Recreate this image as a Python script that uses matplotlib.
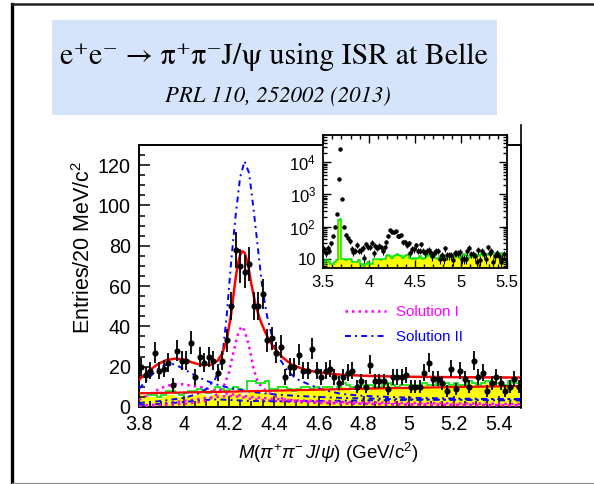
import numpy as np
import matplotlib.pyplot as plt
from matplotlib.patches import Rectangle
from matplotlib.lines import Line2D
from matplotlib.ticker import MultipleLocator, FixedLocator, FuncFormatter, NullFormatter

plt.rcParams['font.family'] = ['Liberation Sans', 'DejaVu Sans']
plt.rcParams['mathtext.fontset'] = 'custom'
plt.rcParams['mathtext.rm'] = 'Liberation Sans'
plt.rcParams['mathtext.it'] = 'Liberation Sans:italic'
plt.rcParams['mathtext.bf'] = 'Liberation Sans:bold'

# M(pi+ pi- J/psi) spectrum, 20 MeV bins from 3.8 to 5.5 GeV
bin_width = 0.02
main_lo = 3.80
counts = [20, 16, 18, 27, 18, 19, 22, 11, 28, 23,
          23, 32, 15, 25, 22, 25, 23, 17, 23, 33,
          50, 78, 70, 67, 71, 50, 50, 56, 33, 34,
          27, 30, 15, 20, 20, 26, 18, 18, 29, 18,
          15, 18, 19, 15, 12, 15, 17, 18, 10, 13,
          10, 21, 13, 13, 13, 9, 15, 15, 15, 16,
          10, 10, 10, 17, 22, 14, 14, 12, 8, 19,
          9, 18, 14, 10, 23, 15, 17, 8, 12, 15,
          12, 8, 10, 14, 10]

# J/psi sideband histogram (yellow) and green histogram
sideband = [6, 6, 5, 5, 4, 5, 6, 6, 5, 5,
            5, 6, 6, 7, 6, 5, 6, 7, 6, 6,
            7, 8, 7, 6, 7, 8, 7, 7, 8, 7,
            8, 8, 9, 8, 7, 8, 9, 9, 8, 9,
            8, 9, 9, 8, 9, 10, 9, 8, 9, 10,
            9, 10, 9, 9, 10, 11, 10, 9, 10, 10,
            10, 9, 10, 11, 10, 10, 11, 10, 11, 10,
            11, 10, 10, 12, 11, 10, 11, 12, 10, 11,
            11, 10, 12, 11, 11]
green_hist = [7, 7, 6, 6, 5, 6, 8, 8, 7, 6,
              7, 8, 8, 9, 8, 7, 8, 10, 9, 8,
              9, 10, 9, 8, 13, 13, 12, 12, 13, 9,
              9, 10, 10, 9, 8, 9, 10, 10, 9, 10,
              9, 10, 10, 9, 10, 12, 11, 10, 10, 11,
              10, 11, 10, 10, 11, 12, 11, 10, 11, 11,
              11, 10, 11, 12, 11, 11, 12, 11, 12, 11,
              12, 11, 11, 13, 12, 11, 12, 13, 11, 12,
              12, 11, 13, 12, 12]

# fit curves (sampled)
total_m = [3.80, 3.84, 3.88, 3.92, 3.96, 4.00, 4.04, 4.08, 4.12, 4.15,
           4.17, 4.19, 4.21, 4.22, 4.23, 4.24, 4.25, 4.26, 4.27, 4.28,
           4.29, 4.30, 4.32, 4.34, 4.36, 4.38, 4.40, 4.44, 4.48, 4.52,
           4.56, 4.60, 4.65, 4.70, 4.80, 4.90, 5.00, 5.20, 5.50]
total_fit = [13.5, 17.5, 21, 23.2, 24, 23.5, 22, 20.8, 21, 23,
             26.5, 33, 46, 55, 64, 71, 75.5, 77.3, 76.5, 73,
             67.5, 61, 50, 43, 37.5, 33, 29.5, 24.5, 21, 19.3,
             18, 17.2, 16.5, 16, 15.5, 15.2, 15, 14.8, 14.6]

bkg_m = [3.8, 4.0, 4.2, 4.4, 4.6, 4.8, 5.0, 5.2, 5.5]
bkg_fit = [6.8, 7.2, 7.6, 8.1, 8.6, 9.1, 9.5, 9.9, 10.4]

sol1_y4260_m = [3.80, 4.00, 4.10, 4.15, 4.18, 4.20, 4.22, 4.24, 4.255, 4.27,
                4.29, 4.31, 4.33, 4.36, 4.40, 4.46, 4.55, 4.70, 5.00, 5.50]
sol1_y4260 = [0.5, 1.5, 3, 6.5, 11, 17, 27, 36, 40, 38,
              30, 19, 12, 8.5, 5.5, 3.5, 2.5, 1.8, 1.2, 0.8]
sol1_y4008_m = [3.80, 3.85, 3.90, 3.95, 3.98, 4.02, 4.08, 4.14, 4.20, 4.30,
                4.40, 4.50, 4.70, 5.00, 5.50]
sol1_y4008 = [3.5, 6.5, 9.5, 11.3, 11.5, 10.8, 9.8, 8, 6.5, 5,
              4, 3.3, 2.5, 2, 1.5]
sol1_int_m = [3.80, 3.90, 4.00, 4.10, 4.20, 4.25, 4.30, 4.40, 4.60, 5.00, 5.50]
sol1_int = [0.3, 1.5, 3, 4.5, 5.5, 5, 4, 3, 2, 1.2, 0.8]

sol2_y4260_m = [3.80, 3.90, 4.00, 4.06, 4.10, 4.14, 4.17, 4.19, 4.21, 4.23,
                4.25, 4.27, 4.29, 4.31, 4.33, 4.35, 4.37, 4.39, 4.42, 4.46,
                4.50, 4.56, 4.62, 4.70, 4.80, 5.00, 5.20, 5.50]
sol2_y4260 = [2, 3, 4.5, 6.5, 9, 14, 24, 45, 72, 95,
              114, 122, 116, 98, 78, 58, 45, 36, 25, 18,
              14, 11, 8.5, 6.5, 5.5, 4.6, 4.2, 3.8]
sol2_y4008_m = [3.80, 3.84, 3.88, 3.92, 3.95, 3.98, 4.02, 4.06, 4.10, 4.15,
                4.20, 4.30, 4.40, 4.50, 4.70, 5.00, 5.50]
sol2_y4008 = [9, 14, 18.5, 21, 21.3, 20, 17.5, 15, 13, 11,
              9.5, 7.5, 6.3, 5.5, 4.5, 3.8, 3.2]
sol2_int_m = [3.80, 3.90, 4.00, 4.10, 4.15, 4.20, 4.30, 4.40, 4.60, 5.00, 5.50]
sol2_int = [1, 1.5, 2.5, 3.5, 3.8, 3.5, 3, 2.8, 3, 3.5, 4]

# inset: wider mass range on log scale, extra bins below 3.8 GeV
inset_lo = 3.50
inset_low_counts = [20, 15, 22, 18, 30, 50, 100, 250, 3000, 25000,
                    700, 100, 55, 45, 35]
inset_hist = [7, 9, 9, 8, 7, 7, 8, 9, 165, 170,
              10, 10, 9, 10, 10, 9, 8, 8, 8, 9,
              7, 7, 6, 7, 8, 7, 7, 10, 10, 10,
              10, 9, 10, 10, 12, 13, 12, 11, 12, 13,
              14, 13, 12, 11, 12, 13, 14, 11, 10, 11,
              10, 11, 12, 11, 10, 11, 12, 13, 12, 11,
              12, 11, 10, 12, 13, 12, 11, 12, 13, 12,
              11, 12, 13, 12, 11, 12, 14, 13, 12, 11,
              12, 13, 14, 13, 12, 13, 14, 12, 13, 14,
              13, 14, 15, 13, 12, 14, 13, 15, 14, 13]

W, H = 594, 484


def fx(px):
    return px / W


def fy(py):
    return 1 - py / H


fig = plt.figure(figsize=(W / 100, H / 100), dpi=100)

# slide frame
fig.add_artist(Line2D([fx(12), fx(12)], [fy(4), fy(484)], color='black', lw=2.4))
fig.add_artist(Line2D([fx(12), fx(594)], [fy(4), fy(4)], color='#222222', lw=1.8))
fig.add_artist(Line2D([fx(12), fx(594)], [fy(482.5), fy(482.5)], color='#888888', lw=0.8))

# title box
fig.add_artist(Rectangle((fx(52), fy(115)), (497 - 52) / W, (115 - 20) / H,
                         transform=fig.transFigure, facecolor='#d6e4fb', edgecolor='none'))
fig.text(fx(274), fy(57), 'e⁺e⁻ → π⁺π⁻J/ψ using ISR at Belle',
         family=['STIXGeneral', 'DejaVu Serif'], fontsize=21.5, ha='center', va='center')
fig.text(fx(278), fy(96), 'PRL 110, 252002 (2013)',
         family=['STIXGeneral', 'DejaVu Serif'], style='italic', fontsize=16.3,
         ha='center', va='center')

# main plot
ax = fig.add_axes([fx(139), fy(407), (521 - 139) / W, (407 - 145) / H])
edges = main_lo + bin_width * np.arange(len(counts) + 1)
centers = edges[:-1] + bin_width / 2

ax.stairs(sideband, edges, fill=True, color='#ffff00', zorder=1)
ax.stairs(green_hist, edges, color='#00e600', lw=1.2, zorder=2)

dot = (0, (1, 1.6))
dashdot = (0, (3, 2.2, 1, 2.2))
ax.plot(sol1_int_m, sol1_int, color='#ff00ff', ls=dot, lw=1.8, zorder=3)
ax.plot(sol2_int_m, sol2_int, color='#0000ff', ls=dashdot, lw=1.4, zorder=3)
ax.plot(sol1_y4008_m, sol1_y4008, color='#ff00ff', ls=dot, lw=1.8, zorder=3)
ax.plot(sol1_y4260_m, sol1_y4260, color='#ff00ff', ls=dot, lw=1.8, zorder=3)
ax.plot(sol2_y4008_m, sol2_y4008, color='#0000ff', ls=dashdot, lw=1.4, zorder=3)
ax.plot(sol2_y4260_m, sol2_y4260, color='#0000ff', ls=dashdot, lw=1.4, zorder=3)
ax.plot(bkg_m, bkg_fit, color='#ff0000', lw=1.6, zorder=4)
ax.plot(total_m, total_fit, color='#ff0000', lw=1.8, zorder=4)

ax.errorbar(centers, counts, yerr=np.sqrt(counts), fmt='o', color='black',
            ms=3.4, elinewidth=1.3, capsize=0, zorder=5)

ax.set_xlim(3.8, 5.5)
ax.set_ylim(0, 130)
ax.xaxis.set_major_locator(MultipleLocator(0.2))
ax.xaxis.set_minor_locator(MultipleLocator(0.05))
ax.yaxis.set_major_locator(MultipleLocator(20))
ax.yaxis.set_minor_locator(MultipleLocator(5))
ax.xaxis.set_major_formatter(FuncFormatter(lambda v, p: f'{v:g}'))
ax.tick_params(which='both', direction='in', labelsize=14.2, width=1.1)
ax.tick_params(which='major', length=8, pad=6)
ax.tick_params(which='minor', length=4)
for s in ax.spines.values():
    s.set_linewidth(1.4)

leg_handles = [Line2D([], [], color='#ff00ff', ls=dot, lw=1.8),
               Line2D([], [], color='#0000ff', ls=dashdot, lw=1.4)]
ax.legend(leg_handles, ['Solution I', 'Solution II'], loc='upper left',
          bbox_to_anchor=(fx(345), fy(305)), bbox_transform=fig.transFigure,
          frameon=False, fontsize=10.8, handlelength=2.7, handletextpad=0.7,
          labelspacing=0.75, borderpad=0, borderaxespad=0,
          labelcolor=['#ff00ff', '#0000ff'])

fig.text(fx(84), fy(247), 'Entries/20 MeV/c$^{2}$', rotation=90,
         fontsize=15.5, ha='center', va='center')
fig.text(fx(328), fy(453), r'$M(\pi^{+}\pi^{-}\,J/\psi)$ (GeV/c$^{2}$)',
         fontsize=13.5, ha='center', va='center')

# right edge of the pasted figure
fig.add_artist(Line2D([fx(521), fx(521)], [fy(125), fy(408)], color='black', lw=1.2))

# inset, log scale
axi = fig.add_axes([fx(323), fy(268), (507 - 323) / W, (268 - 135) / H])
inset_counts = inset_low_counts + counts
in_edges = inset_lo + bin_width * np.arange(len(inset_hist) + 1)
in_centers = inset_lo + bin_width / 2 + bin_width * np.arange(len(inset_counts))
axi.stairs(inset_hist, in_edges, fill=True, color='#ffff00', zorder=1)
axi.stairs(inset_hist, in_edges, color='#00e600', lw=1.1, zorder=2)
axi.errorbar(in_centers, inset_counts, yerr=np.sqrt(inset_counts), fmt='o',
             color='black', ms=2.2, elinewidth=0.8, capsize=0, zorder=3)
axi.set_yscale('log')
axi.set_xlim(3.5, 5.5)
axi.set_ylim(5.2, 7e4)
axi.xaxis.set_major_locator(MultipleLocator(0.5))
axi.xaxis.set_minor_locator(MultipleLocator(0.1))
axi.xaxis.set_major_formatter(FuncFormatter(lambda v, p: f'{v:g}'))
axi.yaxis.set_major_locator(FixedLocator([10, 100, 1000, 10000]))
axi.yaxis.set_major_formatter(FuncFormatter(
    lambda v, p: '10' if v < 50 else f'$10^{{{int(round(np.log10(v)))}}}$'))
axi.yaxis.set_minor_locator(FixedLocator(
    [m * 10 ** e for e in range(0, 5) for m in range(2, 10) if 5.2 < m * 10 ** e < 7e4]))
axi.yaxis.set_minor_formatter(NullFormatter())
axi.tick_params(which='both', direction='in', top=True, right=True,
                labelsize=12, width=1.0)
axi.tick_params(which='major', length=6, pad=5)
axi.tick_params(which='minor', length=3)
for s in axi.spines.values():
    s.set_linewidth(1.3)

fig.savefig('out.png', dpi=100)
